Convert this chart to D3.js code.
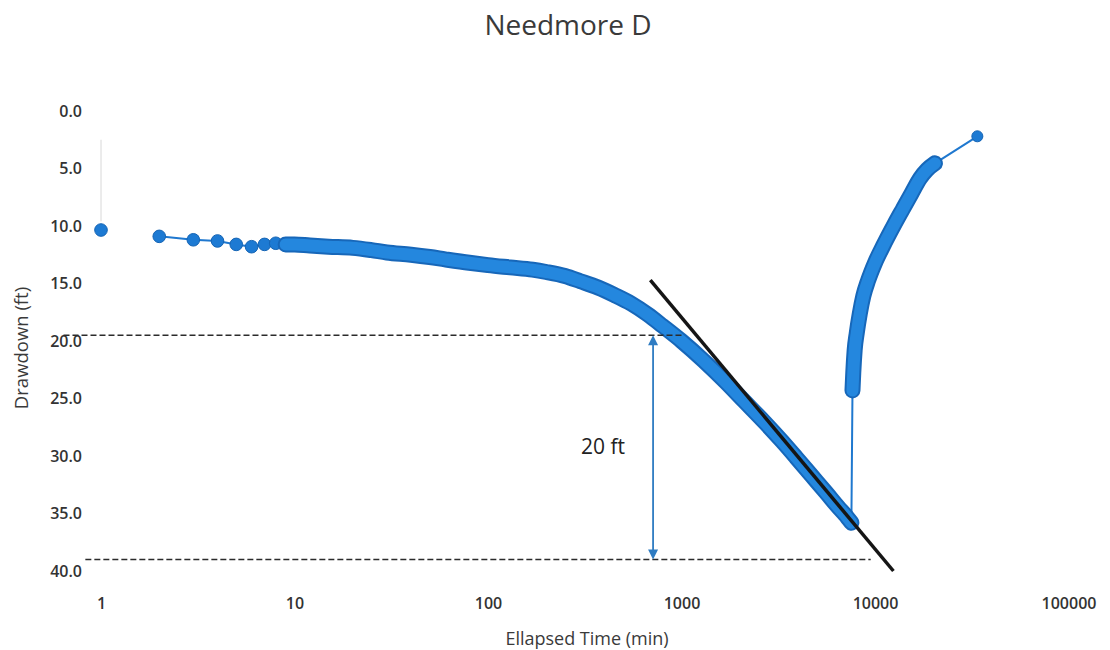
<!DOCTYPE html>
<html>
<head>
<meta charset="utf-8">
<script src="https://cdn.jsdelivr.net/npm/d3@7"></script>
<style>
  body { margin: 0; background: #fff; }
  text { font-family: "Open Sans", "Noto Sans", sans-serif; }
  .axis path.domain { display: none; }
  .axis text { fill: #333; font-size: 16px; font-weight: 600; }
</style>
</head>
<body>
<script>
// Data // ---------------------------------------------------------------------
// pumping phase (elapsed minutes, drawdown ft)
var pumpTime = [1, 2, 3, 4, 5, 6, 7, 8, 9, 10, 12, 15, 20, 25, 30, 40, 50, 60, 80, 100,
                130, 170, 200, 250, 300, 370, 450, 550, 670, 800, 1000, 1300, 1700, 2100,
                2700, 3300, 3900, 4700, 5600, 6500, 7000, 7550];
var pumpDrawdown = [10.35, 10.9, 11.2, 11.3, 11.6, 11.8, 11.6, 11.5, 11.6, 11.6, 11.7, 11.8, 11.9, 12.1, 12.3, 12.5, 12.7, 12.9, 13.2, 13.4,
                    13.6, 13.8, 14.0, 14.35, 14.8, 15.35, 16.0, 16.75, 17.7, 18.7, 20.0, 21.7, 23.6, 25.2,
                    27.1, 28.7, 30.1, 31.7, 33.2, 34.5, 35.1, 35.8];
// recovery phase
var recovTime = [7650, 7720, 7850, 8050, 8350, 8700, 9230, 10000, 11000, 12600,
                 13950, 15400, 17100, 18600, 20400, 33800];
var recovDrawdown = [24.3, 22.8, 20.8, 19.3, 17.6, 16.1, 14.7, 13.2, 11.75, 9.85,
                     8.5, 7.2, 5.85, 5.1, 4.55, 2.2];

// straight-line fit drawn over the late pumping data
var fitTime = [690, 12450];
var fitDrawdown = [14.7, 40.0];

// "20 ft" annotation: two dashed reference levels and the arrow between them
var refTime = [[0.64, 1000], [0.83, 9500]];
var refDrawdown = [19.5, 39.0];
var arrowTime = 713;
var arrowLabel = "20 ft";

// faint trace above the first reading
var traceDrawdown = [2.5, 9.6];

// tick labels
var xTicks = [1, 10, 100, 1000, 10000, 100000];
var yTicks = [0, 5, 10, 15, 20, 25, 30, 35, 40];

// Setup // ----------------------------------------------------------------------
var W = 1110, H = 650;
var margin = {top: 111, left: 101},
    width = 967.5,
    height = 460;

var x = d3.scaleLog().domain([1, 100000]).range([0, width]),
    y = d3.scaleLinear().domain([0, 40]).range([0, height]); // drawdown grows downwards

var svg = d3.select("body").append("svg")
            .attr("width", W)
            .attr("height", H);

var g = svg.append("g")
           .attr("transform", "translate(" + margin.left + "," + margin.top + ")");

var pump = pumpTime.map(function(t, i) { return {t: t, d: pumpDrawdown[i]}; });
var recov = recovTime.map(function(t, i) { return {t: t, d: recovDrawdown[i]}; });
var all = pump.concat(recov);

var line = d3.line()
             .x(function(d) { return x(d.t); })
             .y(function(d) { return y(d.d); });

var smooth = d3.line()
               .curve(d3.curveMonotoneX)
               .x(function(d) { return x(d.t); })
               .y(function(d) { return y(d.d); });

// Title & axis titles // ---------------------------------------------------------
svg.append("text")
   .attr("x", 568).attr("y", 35)
   .attr("text-anchor", "middle")
   .style("font-size", "28px")
   .style("fill", "#3a3a3a")
   .text("Needmore D");

svg.append("text")
   .attr("x", 587).attr("y", 645)
   .attr("text-anchor", "middle")
   .style("font-size", "18px")
   .style("fill", "#3a3a3a")
   .text("Ellapsed Time (min)");

svg.append("text")
   .attr("transform", "translate(28,348) rotate(-90)")
   .attr("text-anchor", "middle")
   .style("font-size", "18.5px")
   .style("fill", "#3a3a3a")
   .text("Drawdown (ft)");

// Axes (labels only) // -----------------------------------------------------------
g.append("g")
 .attr("class", "axis")
 .call(d3.axisLeft(y)
         .tickValues(yTicks)
         .tickFormat(d3.format(".1f"))
         .tickSize(0)
         .tickPadding(19));

g.append("g")
 .attr("class", "axis")
 .attr("transform", "translate(0," + height + ")")
 .call(d3.axisBottom(x)
         .tickValues(xTicks)
         .tickFormat(d3.format("d"))
         .tickSize(0)
         .tickPadding(27));

// Data // ----------------------------------------------------------------------
// faint trace
g.append("line")
 .attr("x1", x(1)).attr("x2", x(1))
 .attr("y1", y(traceDrawdown[0])).attr("y2", y(traceDrawdown[1]))
 .attr("stroke", "#d8d8d8")
 .attr("stroke-width", 1);

// thin connecting line (the first reading stands apart)
g.append("path")
 .datum(all.slice(1))
 .attr("d", line)
 .attr("fill", "none")
 .attr("stroke", "#1f78cf")
 .attr("stroke-width", 2);

// markers
g.selectAll("circle.pt")
 .data(all)
 .enter().append("circle")
 .attr("class", "pt")
 .attr("cx", function(d) { return x(d.t); })
 .attr("cy", function(d) { return y(d.d); })
 .attr("r", function(d) { return d.t > 30000 ? 5.5 : 6.3; })
 .attr("fill", "#1d7ad3")
 .attr("stroke", "#1564b4")
 .attr("stroke-width", 1);

// dense stretches of readings form a solid band
var bands = [pump.filter(function(d) { return d.t >= 9; }),
             recov.slice(0, recov.length - 1)];

bands.forEach(function(b) {
  g.append("path")
   .datum(b)
   .attr("d", smooth)
   .attr("fill", "none")
   .attr("stroke", "#1767b9")
   .attr("stroke-width", 16)
   .attr("stroke-linecap", "round")
   .attr("stroke-linejoin", "round");
  g.append("path")
   .datum(b)
   .attr("d", smooth)
   .attr("fill", "none")
   .attr("stroke", "#2487de")
   .attr("stroke-width", 12)
   .attr("stroke-linecap", "round")
   .attr("stroke-linejoin", "round");
});

// Annotations // ---------------------------------------------------------------
// straight-line fit
g.append("line")
 .attr("x1", x(fitTime[0])).attr("y1", y(fitDrawdown[0]))
 .attr("x2", x(fitTime[1])).attr("y2", y(fitDrawdown[1]))
 .attr("stroke", "#151515")
 .attr("stroke-width", 3.5);

// dashed reference levels
refDrawdown.forEach(function(d, i) {
  g.append("line")
   .attr("x1", x(refTime[i][0])).attr("x2", x(refTime[i][1]))
   .attr("y1", y(d)).attr("y2", y(d))
   .attr("stroke", "#2b2b2b")
   .attr("stroke-width", 1.6)
   .attr("stroke-dasharray", "6,3");
});

// double-headed arrow between the levels
var ax = x(arrowTime), ay1 = y(refDrawdown[0]), ay2 = y(refDrawdown[1]);
var arrowColor = "#2f7cc2";
g.append("line")
 .attr("x1", ax).attr("x2", ax)
 .attr("y1", ay1 + 8).attr("y2", ay2 - 8)
 .attr("stroke", arrowColor)
 .attr("stroke-width", 1.8);
g.append("path")
 .attr("d", "M" + ax + "," + ay1 + "l-5,10h10z")
 .attr("fill", arrowColor);
g.append("path")
 .attr("d", "M" + ax + "," + ay2 + "l-5,-10h10z")
 .attr("fill", arrowColor);

g.append("text")
 .attr("x", ax - 28)
 .attr("y", (ay1 + ay2) / 2 + 7)
 .attr("text-anchor", "end")
 .style("font-size", "21px")
 .style("fill", "#222")
 .text(arrowLabel);
</script>
</body>
</html>
